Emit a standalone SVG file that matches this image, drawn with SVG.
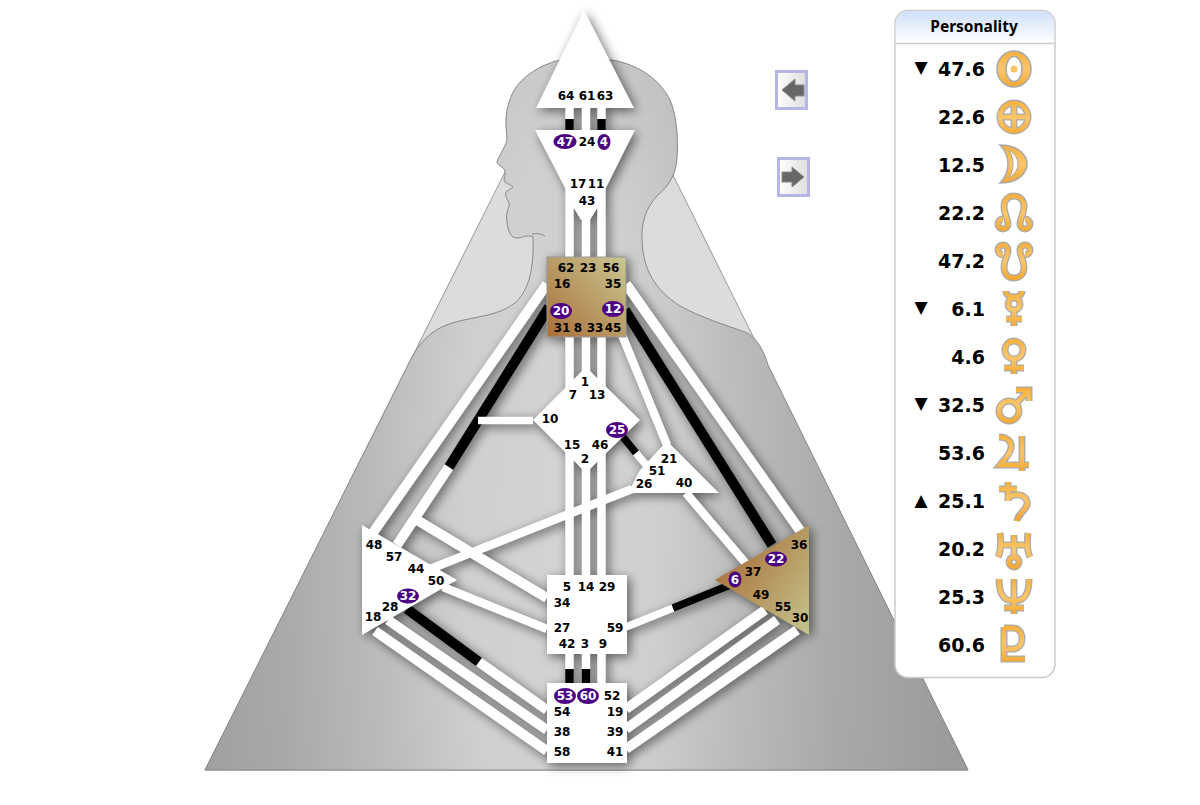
<svg xmlns="http://www.w3.org/2000/svg" xmlns:xlink="http://www.w3.org/1999/xlink" width="1200" height="805" viewBox="0 0 1200 805">
<style>
text{font-family:"DejaVu Sans","Liberation Sans",sans-serif;font-weight:bold;fill:#000}
.t{font-size:12px;text-anchor:middle}
.p{font-size:12px;text-anchor:middle;fill:#fff}
.v{font-size:19px;text-anchor:end}
.a{font-size:17px;text-anchor:middle}
.n{fill:#fff}
.o{fill:#4b0082}
.w,.k{fill:none;stroke-width:10}
.w{stroke:#fff}.k{stroke:#000}
.s8{stroke-width:8.5}.s7{stroke-width:7.5}
.lg{fill:none;stroke:#aaa;stroke-width:7}
.lo{fill:none;stroke:url(#org);stroke-width:4.4}
.f{fill:url(#org);stroke:#aaa;stroke-width:1.6}
.btn{stroke:#b6b6e6;stroke-width:3;fill:url(#btnf)}
.ar{fill:#666;stroke:#888;stroke-width:1}
</style>
<defs>
<radialGradient id="body" gradientUnits="userSpaceOnUse" cx="0" cy="0" r="1" gradientTransform="translate(560 520) scale(400 1500)">
<stop offset="0" stop-color="#d4d4d4"/><stop offset=".25" stop-color="#cfcfcf"/><stop offset=".45" stop-color="#bcbcbc"/><stop offset=".7" stop-color="#a9a9a9"/><stop offset="1" stop-color="#9b9b9b"/>
</radialGradient>
<linearGradient id="thr" x1="0" y1="1" x2="1" y2="0"><stop offset="0" stop-color="#a96f3a"/><stop offset="1" stop-color="#cac792"/></linearGradient>
<linearGradient id="sp" gradientUnits="userSpaceOnUse" x1="715" y1="560" x2="810" y2="625"><stop offset="0" stop-color="#a96f3a"/><stop offset="1" stop-color="#c4c18a"/></linearGradient>
<linearGradient id="org" gradientUnits="userSpaceOnUse" x1="0" y1="0" x2="0" y2="38"><stop offset="0" stop-color="#f5ae3c"/><stop offset=".5" stop-color="#fcc66a"/><stop offset="1" stop-color="#f3a630"/></linearGradient>
<linearGradient id="hd" x1="0" y1="0" x2="0" y2="1"><stop offset="0" stop-color="#cfe0f9"/><stop offset="1" stop-color="#fff"/></linearGradient>
<linearGradient id="btnf" x1="0" y1="0" x2="1" y2="0"><stop offset="0" stop-color="#fff"/><stop offset="1" stop-color="#ddd"/></linearGradient>
<filter id="sh" filterUnits="userSpaceOnUse" x="0" y="0" width="1200" height="805">
<feGaussianBlur in="SourceAlpha" stdDeviation="5.500"/><feOffset dx="3" dy="3"/><feComponentTransfer><feFuncA type="linear" slope=".55"/></feComponentTransfer>
</filter>
<g id="s-earth"><circle cx="18" cy="18" r="14"/><path d="M18 3V33M3 18H33"/></g>
<path id="s-leo" d="M7 25A5 5 0 1 0 12 30C12 24 8 20 8 13C8 6 12 2 18 2C24 2 28 6 28 13C28 20 24 24 24 30A5 5 0 1 0 29 25"/>
<path id="s-node" d="M7 13A5 5 0 1 1 12 8C12 14 8 18 8 25C8 32 12 36 18 36C24 36 28 32 28 25C28 18 24 14 24 8A5 5 0 1 1 29 13"/>
<g id="s-merc"><path d="M10 1C10 5 14 7 18 7C22 7 26 5 26 1"/><circle cx="18" cy="14" r="6"/><path d="M18 21V36M10 29H26"/></g>
<g id="s-ven"><circle cx="18" cy="12" r="9"/><path d="M18 22V36M8 30H28"/></g>
<g id="s-mars"><circle cx="13" cy="25" r="10"/><path d="M20 18L31 6M20 4H33V15"/></g>
<path id="s-jup" d="M3 3C12 3 16 8 15 14C14 20 9 25 4 31H33M26 2V37"/>
<path id="s-sat" d="M12 1V20M3 8H21M12 18C16 12 28 12 31 20C33 28 22 32 21 40"/>
<g id="s-ura"><path d="M4 2C5 10 5 20 2 26M32 2C31 10 31 20 34 26M4 14H32M18 4V25"/><circle cx="18" cy="31" r="5"/></g>
<path id="s-nep" d="M3 2C3 18 8 24 18 24C28 24 33 18 33 2M18 2V37M8 31H28"/>
<path id="s-plu" d="M8 2V34H29M8 3H17C29 3 29 24 17 24H8"/>
</defs>

<g id="background">
<polygon points="205,770 505,172 673,175 968,770" fill="#dcdcdc" stroke="#999" stroke-width="1"/>
<path d="M205 770L409 363C418 343 432 329 452 323C476 316 500 316 516 302C530 289 534 265 533 237C527 234 522 238 517 238C509 238 508 228 507 222C505 213 510 207 509 203C506 198 505 193 506 192C508 190 511 189 513 187C510 184 504 183 504 180C505 175 506 170 503 168C500 166 497 164 497 162C500 153 507 145 507 138C505 120 505 110 513 92C522 76 540 65 560 60L612 60C640 65 660 80 670 100C678 118 678 145 677 158C676 175 668 187 658 195C645 208 641 225 642 240C643 270 655 290 680 306C700 317 725 325 745 332C758 338 764 352 768 365L968 770Z" fill="url(#body)" stroke="#888" stroke-width="1"/>
<path d="M532 234C537 233 542 234 545 236" fill="none" stroke="#888" stroke-width="1"/>
</g>

<g id="shadow" filter="url(#sh)">
<use href="#connectors"/><use href="#head"/><use href="#ajna"/><use href="#throat"/><use href="#g"/><use href="#ego"/><use href="#spleen"/><use href="#plexus"/><use href="#sacral"/><use href="#root"/>
</g>

<g id="connectors">
<path class="w s8" d="M569.5 108V130M586 108V130M601.5 108V130M569.5 188V257M586 188V257M601.5 188V257M569.5 337V395M586 337V395M601.5 337V395M569.5 450V575M586 450V575M601.5 450V575M569.5 654V683M586 654V683M601.5 654V683"/>
<path class="k s8" d="M569.5 119V130M601.5 119V130M569.5 669V683M586 669V683"/>
<path class="w" d="M547 284L370 537"/>
<path class="w" d="M449 467L397 545"/>
<path class="k" d="M549 307L449 467"/>
<path class="w s7" d="M533 420.5H478"/>
<path class="w" d="M412 517L547 598"/>
<path class="w s8" d="M443 587L547 629"/>
<path class="w s8" d="M425 571L632 489"/>
<path class="k s7" d="M623 437L636 453"/>
<path class="w s7" d="M636 453L652 472"/>
<path class="w s8" d="M622 335L667 445"/>
<path class="w s8" d="M686 493L748 566"/>
<path class="k" d="M625 310L772 545"/>
<path class="w" d="M626 284L801 532"/>
<path class="w s7" d="M626 627L673 608"/>
<path class="k s7" d="M673 608L730 585"/>
<path class="w" d="M626 709L765 610"/>
<path class="w" d="M626 729L777 620"/>
<path class="w" d="M626 749L797 630"/>
<path class="w" d="M547 751L375 631"/>
<path class="w" d="M547 730L388 620"/>
<path class="k" d="M407 609L479 662"/>
<path class="w" d="M479 662L547 710"/>
</g>

<g id="head">
<polygon class="n" points="584,10 634,108 536,108"/>
<text class="t" x="566" y="100">64</text><text class="t" x="587" y="100">61</text><text class="t" x="605" y="100">63</text>
</g>

<g id="ajna">
<polygon class="n" points="535,130 635,130 606,188 598,207 590,220 581,220 573,207 565,188"/>
<ellipse class="o" cx="565" cy="141.500" rx="11.500" ry="7.500"/><text class="p" x="565" y="146">47</text>
<text class="t" x="587" y="146">24</text>
<ellipse class="o" cx="604" cy="142" rx="6.500" ry="8"/><text class="p" x="604" y="146">4</text>
<text class="t" x="578" y="188">17</text><text class="t" x="596" y="188">11</text><text class="t" x="587" y="205">43</text>
</g>

<g id="throat">
<rect x="547" y="257" width="79" height="80" fill="url(#thr)" stroke="#999" stroke-width="1"/>
<text class="t" x="566" y="272">62</text><text class="t" x="588" y="272">23</text><text class="t" x="611" y="272">56</text>
<text class="t" x="562" y="288">16</text><text class="t" x="613" y="288">35</text>
<ellipse class="o" cx="561" cy="311" rx="11" ry="8"/><text class="p" x="561" y="315">20</text>
<ellipse class="o" cx="613" cy="309" rx="11" ry="8"/><text class="p" x="613" y="313">12</text>
<text class="t" x="562" y="332">31</text><text class="t" x="578" y="332">8</text><text class="t" x="595" y="332">33</text><text class="t" x="613" y="332">45</text>
</g>

<g id="g">
<polygon class="n" points="533,420 586,367 640,420 586,473"/>
<text class="t" x="585" y="386">1</text><text class="t" x="573" y="399">7</text><text class="t" x="597" y="399">13</text>
<text class="t" x="550" y="423">10</text>
<ellipse class="o" cx="617" cy="430" rx="11" ry="8"/><text class="p" x="617" y="434">25</text>
<text class="t" x="572" y="449">15</text><text class="t" x="600" y="449">46</text><text class="t" x="585" y="463">2</text>
</g>

<g id="ego">
<polygon class="n" points="667,441 719,493 628,493 640,470"/>
<text class="t" x="669" y="463">21</text><text class="t" x="657" y="475">51</text><text class="t" x="644" y="488">26</text><text class="t" x="684" y="487">40</text>
</g>

<g id="spleen">
<polygon class="n" points="362,525 457,580 362,635"/>
<text class="t" x="374" y="549">48</text><text class="t" x="394" y="561">57</text><text class="t" x="416" y="573">44</text><text class="t" x="436" y="585">50</text>
<ellipse class="o" cx="408" cy="596" rx="11" ry="7.500"/><text class="p" x="408" y="600">32</text>
<text class="t" x="390" y="611">28</text><text class="t" x="373" y="621">18</text>
</g>

<g id="plexus">
<polygon points="809,525 809,635 715,580" fill="url(#sp)"/>
<text class="t" x="799" y="549">36</text>
<ellipse class="o" cx="776" cy="559" rx="11" ry="7.500"/><text class="p" x="776" y="563">22</text>
<text class="t" x="753" y="576">37</text>
<ellipse class="o" cx="735" cy="579.500" rx="6.500" ry="8"/><text class="p" x="735" y="584">6</text>
<text class="t" x="761" y="599">49</text><text class="t" x="783" y="611">55</text><text class="t" x="800" y="622">30</text>
</g>

<g id="sacral">
<rect class="n" x="547" y="575" width="80" height="79"/>
<text class="t" x="567" y="591">5</text><text class="t" x="586" y="591">14</text><text class="t" x="607" y="591">29</text>
<text class="t" x="562" y="607">34</text><text class="t" x="562" y="632">27</text><text class="t" x="615" y="632">59</text>
<text class="t" x="567" y="648">42</text><text class="t" x="585" y="648">3</text><text class="t" x="603" y="648">9</text>
</g>

<g id="root">
<rect class="n" x="547" y="683" width="80" height="80"/>
<ellipse class="o" cx="565" cy="696" rx="11" ry="8"/><text class="p" x="565" y="700">53</text>
<ellipse class="o" cx="588" cy="696" rx="11" ry="8"/><text class="p" x="588" y="700">60</text>
<text class="t" x="612" y="700">52</text>
<text class="t" x="562" y="716">54</text><text class="t" x="615" y="716">19</text>
<text class="t" x="562" y="736">38</text><text class="t" x="615" y="736">39</text>
<text class="t" x="562" y="756">58</text><text class="t" x="615" y="756">41</text>
</g>

<g id="button-prev">
<rect class="btn" x="776.500" y="71.500" width="30" height="37"/>
<polygon class="ar" points="782,90 795,79 795,85 804,85 804,96 795,96 795,101"/>
</g>
<g id="button-next">
<rect class="btn" x="778.500" y="158.500" width="30" height="37"/>
<polygon class="ar" points="804,177 792,167 792,172 782,172 782,182 792,182 792,187"/>
</g>

<g id="panel">
<rect x="895" y="10.500" width="160" height="667" rx="13" fill="#fff" stroke="#ccc" stroke-width="1.500"/>
<path d="M895.750 43V23.500A12.500 12.500 0 0 1 908 11.250H1042A12.500 12.500 0 0 1 1054.250 23.500V43Z" fill="url(#hd)"/>
<path d="M895 43.500H1055" stroke="#ccc" stroke-width="1.500"/>
<text x="974" y="32" style="font-family:'Noto Sans','DejaVu Sans',sans-serif;font-size:15.500px;text-anchor:middle">Personality</text>
<text class="a" x="921" y="73">▼</text><text class="a" x="921" y="313">▼</text><text class="a" x="921" y="409">▼</text><text class="a" x="921" y="506">▲</text>
<text class="v" x="985" y="76">47.6</text><text class="v" x="985" y="124">22.6</text><text class="v" x="985" y="172">12.5</text><text class="v" x="985" y="220">22.2</text>
<text class="v" x="985" y="268">47.2</text><text class="v" x="985" y="316">6.1</text><text class="v" x="985" y="364">4.6</text><text class="v" x="985" y="412">32.5</text>
<text class="v" x="985" y="460">53.6</text><text class="v" x="985" y="508">25.1</text><text class="v" x="985" y="556">20.2</text><text class="v" x="985" y="604">25.3</text><text class="v" x="985" y="652">60.6</text>
<g transform="translate(996 50)"><path class="f" fill-rule="evenodd" d="M1 19A17 18 0 1 1 35 19A17 18 0 1 1 1 19ZM10 19A8 12.500 0 1 0 26 19A8 12.500 0 1 0 10 19Z"/><circle class="f" cx="18" cy="19" r="3.500" style="stroke:none"/></g>
<g transform="translate(996 99)"><use class="lg" href="#s-earth"/><use class="lo" href="#s-earth"/></g>
<g transform="translate(996 145)"><path class="f" d="M4 0C22 0 31 10 31 19C31 28 22 38 4 38C10 32 12 26 12 19C12 12 10 6 4 0Z"/><path d="M13 5C19 9 22 14 22 19C22 24 19 29 13 33C16 28 17 24 17 19C17 14 16 10 13 5Z" fill="#fff" stroke="#aaa" stroke-width="1"/></g>
<g transform="translate(996 194)"><use class="lg" href="#s-leo"/><use class="lo" href="#s-leo"/></g>
<g transform="translate(996 242)"><use class="lg" href="#s-node"/><use class="lo" href="#s-node"/></g>
<g transform="translate(996 290)"><use class="lg" href="#s-merc"/><use class="lo" href="#s-merc"/></g>
<g transform="translate(996 338)"><use class="lg" href="#s-ven"/><use class="lo" href="#s-ven"/></g>
<g transform="translate(996 386)"><use class="lg" href="#s-mars"/><use class="lo" href="#s-mars"/></g>
<g transform="translate(996 434)"><use class="lg" href="#s-jup"/><use class="lo" href="#s-jup"/></g>
<g transform="translate(996 481)"><use class="lg" href="#s-sat"/><use class="lo" href="#s-sat"/></g>
<g transform="translate(996 531)"><use class="lg" href="#s-ura"/><use class="lo" href="#s-ura"/></g>
<g transform="translate(996 577)"><use class="lg" href="#s-nep"/><use class="lo" href="#s-nep"/></g>
<g transform="translate(996 625)"><use class="lg" href="#s-plu"/><use class="lo" href="#s-plu"/></g>
</g>
</svg>
